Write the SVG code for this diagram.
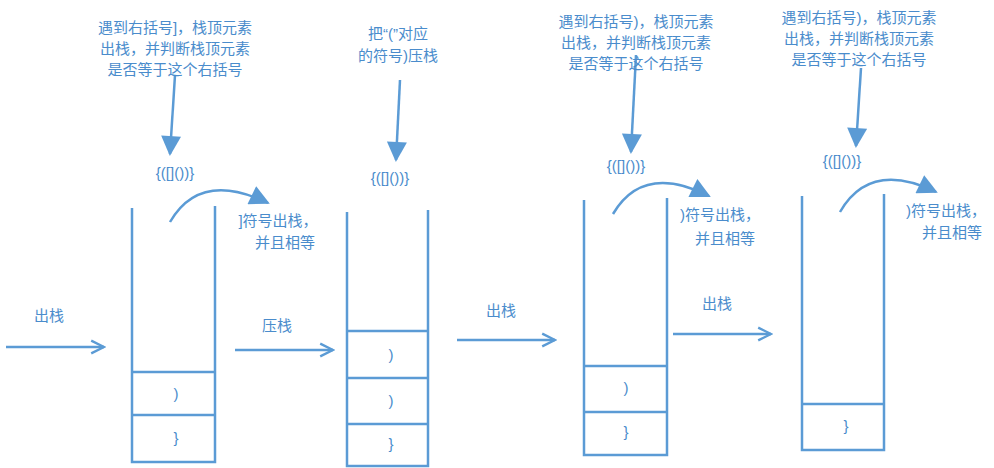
<svg xmlns="http://www.w3.org/2000/svg" width="994" height="468" viewBox="0 0 994 468">
<defs>
<marker id="ah" viewBox="0 0 10 10" refX="9" refY="5" markerWidth="6" markerHeight="6" orient="auto" markerUnits="userSpaceOnUse"><path d="M0,0 L10,5 L0,10 z" fill="#5b9bd5"/></marker>
<marker id="big" viewBox="0 0 10 10" refX="9" refY="5" markerWidth="22" markerHeight="20" orient="auto" markerUnits="userSpaceOnUse"><path d="M0,0 L10,5 L0,10 z" fill="#5b9bd5"/></marker>
<marker id="open" viewBox="0 0 10 10" refX="9" refY="5" markerWidth="16" markerHeight="16" orient="auto" markerUnits="userSpaceOnUse"><path d="M1,1 L9,5 L1,9" fill="none" stroke="#5b9bd5" stroke-width="1.5"/></marker>
</defs>
<style>
.s{stroke:#5b9bd5;stroke-width:2.5;fill:none}
.t{font-family:"Liberation Sans","Noto Sans CJK SC",sans-serif;font-size:15px;fill:#4a8ccc;text-anchor:middle}
</style>
<rect width="994" height="468" fill="#fff"/>
<g id="stack1" class="s"><path d="M132,208V462H215V206M132,372H215M132,415H215"/></g>
<g id="stack2" class="s"><path d="M347,212V466H428V210M347,331H428M347,378H428M347,424H428"/></g>
<g id="stack3" class="s"><path d="M584,200V455H667V198M584,366H667M584,412H667"/></g>
<g id="stack4" class="s"><path d="M802,196V450H884V194M802,404H884"/></g>
<g id="cells" class="t">
<text x="176" y="399">)</text><text x="176" y="443">}</text>
<text x="391" y="360">)</text><text x="391" y="406">)</text><text x="391" y="449">}</text>
<text x="626" y="393">)</text><text x="626" y="437">}</text>
<text x="846" y="431">}</text>
</g>
<g id="connectors" class="s">
<path d="M6,347H104" marker-end="url(#open)"/>
<path d="M235,350H333" marker-end="url(#open)"/>
<path d="M457,340H555" marker-end="url(#open)"/>
<path d="M673,334H771" marker-end="url(#open)"/>
<path d="M175,75L170,154" marker-end="url(#big)"/>
<path d="M400,80L396,160" marker-end="url(#big)"/>
<path d="M636,55L631,152" marker-end="url(#big)"/>
<path d="M861,68L856,146" marker-end="url(#big)"/>
<path d="M170,222Q200,170 268,203" marker-end="url(#big)"/>
<path d="M613,214Q643,163 709,196" marker-end="url(#big)"/>
<path d="M840,212Q870,160 936,192" marker-end="url(#big)"/>
</g>
<g id="labels" class="t">
<text x="49" y="321">出栈</text><text x="277" y="331">压栈</text><text x="501" y="316">出栈</text><text x="717" y="309">出栈</text>
<text x="175" y="178">{([]())}</text><text x="390" y="183">{([]())}</text><text x="626" y="171">{([]())}</text><text x="842" y="166">{([]())}</text>
<text x="175" y="33">遇到右括号]，栈顶元素</text><text x="175" y="54">出栈，并判断栈顶元素</text><text x="175" y="75">是否等于这个右括号</text>
<text x="398" y="39">把“(”对应</text><text x="398" y="61">的符号)压栈</text>
<text x="636" y="27">遇到右括号)，栈顶元素</text><text x="636" y="48">出栈，并判断栈顶元素</text><text x="636" y="69">是否等于这个右括号</text>
<text x="859" y="23">遇到右括号)，栈顶元素</text><text x="859" y="44">出栈，并判断栈顶元素</text><text x="859" y="65">是否等于这个右括号</text>
<text x="278" y="226">]符号出栈，</text><text x="285" y="248">并且相等</text>
<text x="720" y="220">)符号出栈，</text><text x="725" y="244">并且相等</text>
<text x="946" y="216">)符号出栈，</text><text x="952" y="238">并且相等</text>
</g>
</svg>
